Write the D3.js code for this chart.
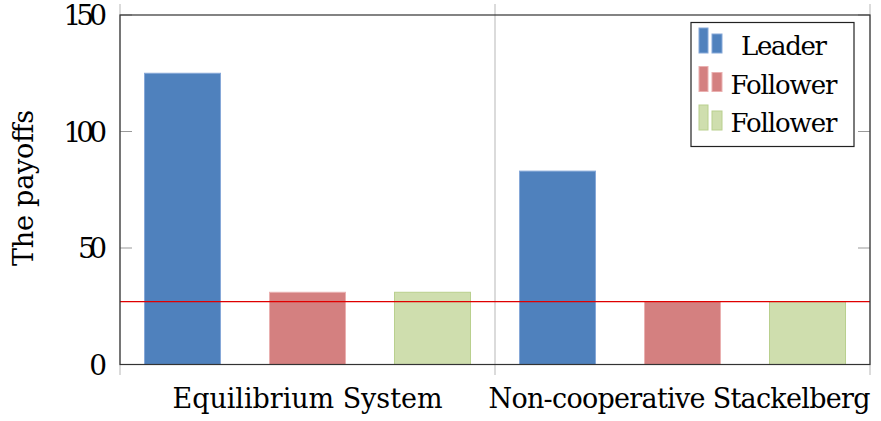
<!DOCTYPE html>
<html>
<head>
<meta charset="utf-8">
<script src="https://cdn.jsdelivr.net/npm/d3@7"></script>
<style>
  body { margin: 0; background: #fff; }
</style>
</head>
<body>
<svg id="chart" width="881" height="421"></svg>
<script>
// data
var groups = ["Equilibrium System", "Non-cooperative Stackelberg"];
var seriesNames = ["Leader", "Follower", "Follower"];
var leaderVals = [125, 83];
var followerVals = [31, 27];
var follower2Vals = [31, 27];
var yTicks = [0, 50, 100, 150];
var refLine = 27;

var fills = ["#4f81bd", "#d48080", "#cfdeae"];
var strokes = ["#86a8d8", "#eab0b0", "#b9d08e"];
var serif = "'DejaVu Serif', 'Liberation Serif', serif";

var svg = d3.select("#chart");
var padL = 120, padR = 870, padT = 15, padB = 364.5;

var x0 = d3.scaleBand().domain(groups).range([padL, padR]).padding(0);
var x1 = d3.scaleBand().domain(d3.range(3)).range([0, x0.bandwidth()])
  .paddingInner(0.392).paddingOuter(0.196);
var y = d3.scaleLinear().domain([0, 150]).range([padB, padT]);

// vertical group boundary lines (light gray ticks)
var bounds = [padL, padL + x0.bandwidth(), padR];
svg.selectAll(".vline").data(bounds).enter().append("line")
  .attr("class", "vline")
  .attr("x1", function(d){ return d; })
  .attr("x2", function(d){ return d; })
  .attr("y1", 4).attr("y2", 375)
  .style("stroke", "#cfcfcf").style("stroke-width", 1.5);

// bars
var rows = [];
groups.forEach(function(g, gi){
  [leaderVals, followerVals, follower2Vals].forEach(function(arr, si){
    rows.push({group: g, s: si, v: arr[gi]});
  });
});

svg.selectAll(".bar").data(rows).enter().append("rect")
  .attr("class", "bar")
  .attr("x", function(d){ return x0(d.group) + x1(d.s); })
  .attr("y", function(d){ return y(d.v); })
  .attr("width", x1.bandwidth())
  .attr("height", function(d){ return y(0) - y(d.v); })
  .style("fill", function(d){ return fills[d.s]; })
  .style("stroke", function(d){ return strokes[d.s]; })
  .style("stroke-width", 1);

// y ticks (inward, both sides)
svg.selectAll(".ytickL").data(yTicks).enter().append("line")
  .attr("x1", padL).attr("x2", padL + 12)
  .attr("y1", function(d){ return y(d); })
  .attr("y2", function(d){ return y(d); })
  .style("stroke", "#999").style("stroke-width", 1);
svg.selectAll(".ytickR").data(yTicks).enter().append("line")
  .attr("x1", padR - 12).attr("x2", padR)
  .attr("y1", function(d){ return y(d); })
  .attr("y2", function(d){ return y(d); })
  .style("stroke", "#999").style("stroke-width", 1);

// reference line
svg.append("line")
  .attr("x1", padL).attr("x2", padR)
  .attr("y1", y(refLine)).attr("y2", y(refLine))
  .style("stroke", "#e00000").style("stroke-width", 1.2);

// frame
svg.append("rect")
  .attr("x", padL).attr("y", padT)
  .attr("width", padR - padL).attr("height", padB - padT)
  .style("fill", "none").style("stroke", "#333").style("stroke-width", 1.2);

// y tick labels
svg.selectAll(".ylab").data(yTicks).enter().append("text")
  .attr("x", 107)
  .attr("y", function(d){ return y(d) + 10; })
  .attr("text-anchor", "end")
  .attr("textLength", function(d){ return String(d).length * 14.5; })
  .style("font-family", serif)
  .style("font-size", "28px")
  .text(function(d){ return d; });

// y axis title
svg.append("text")
  .attr("transform", "translate(33,188) rotate(-90)")
  .attr("text-anchor", "middle")
  .attr("textLength", 156)
  .style("font-family", serif)
  .style("font-size", "27px")
  .text("The payoffs");

// group labels
var labelLens = [270, 382];
svg.selectAll(".xlab").data(groups).enter().append("text")
  .attr("x", function(d, i){ return x0(d) + x0.bandwidth() / 2 - (i == 1 ? 3 : 0); })
  .attr("y", 408)
  .attr("text-anchor", "middle")
  .attr("textLength", function(d, i){ return labelLens[i]; })
  .style("font-family", serif)
  .style("font-size", "27px")
  .text(function(d){ return d; });

// legend
var lg = svg.append("g");
lg.append("rect")
  .attr("x", 691).attr("y", 22.5)
  .attr("width", 163).attr("height", 124)
  .style("fill", "#fff").style("stroke", "#222").style("stroke-width", 1.2);

var legLens = [86, 107, 107];
seriesNames.forEach(function(name, i){
  var base = 55 + i * 38.5;
  lg.append("rect")
    .attr("x", 699).attr("y", base - 27)
    .attr("width", 9).attr("height", 25)
    .style("fill", fills[i]).style("stroke", strokes[i]);
  lg.append("rect")
    .attr("x", 712).attr("y", base - 21)
    .attr("width", 10).attr("height", 19)
    .style("fill", fills[i]).style("stroke", strokes[i]);
  lg.append("text")
    .attr("x", 784).attr("y", base)
    .attr("text-anchor", "middle")
    .attr("textLength", legLens[i])
    .style("font-family", serif)
    .style("font-size", "26px")
    .text(name);
});
</script>
</body>
</html>
